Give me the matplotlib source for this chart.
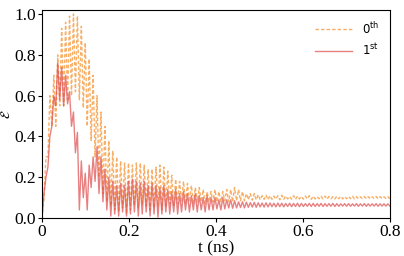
import numpy as np
import matplotlib
matplotlib.use("Agg")
from matplotlib import pyplot as plt

# peak / trough values of each oscillation period (period ~0.009 ns)
zeroth_hi = [0.00, 0.30, 0.60, 0.70, 0.80, 0.93, 0.96, 0.99, 1.00, 0.99,
             0.94, 0.86, 0.78, 0.70, 0.60, 0.52, 0.45, 0.38, 0.33, 0.30,
             0.28, 0.27, 0.27, 0.26, 0.27, 0.27, 0.26, 0.24, 0.24, 0.25,
             0.26, 0.25, 0.23, 0.21, 0.19, 0.18, 0.18, 0.17, 0.16, 0.15,
             0.15, 0.14, 0.13, 0.13, 0.14, 0.13, 0.13, 0.14, 0.14, 0.15,
             0.14, 0.13, 0.12, 0.12, 0.12, 0.115, 0.11, 0.112, 0.11, 0.108,
             0.11, 0.112, 0.108, 0.106, 0.11, 0.108, 0.106, 0.108, 0.11, 0.107,
             0.105, 0.107, 0.108, 0.106, 0.105, 0.107, 0.106, 0.105, 0.106, 0.107,
             0.105, 0.104, 0.106, 0.105, 0.104, 0.106, 0.105, 0.104, 0.105]
zeroth_lo = [0.10, 0.30, 0.45, 0.45, 0.55, 0.55, 0.58, 0.60, 0.62, 0.58,
             0.54, 0.45, 0.38, 0.30, 0.20, 0.12, 0.08, 0.06, 0.04, 0.03,
             0.05, 0.02, 0.04, 0.06, 0.05, 0.07, 0.06, 0.04, 0.05, 0.06,
             0.04, 0.06, 0.07, 0.06, 0.07, 0.08, 0.07, 0.08, 0.07, 0.08,
             0.08, 0.07, 0.08, 0.08, 0.08, 0.08, 0.085, 0.08, 0.08, 0.085,
             0.085, 0.085, 0.09, 0.088, 0.09, 0.09, 0.092, 0.09, 0.092, 0.093,
             0.09, 0.092, 0.094, 0.093, 0.092, 0.094, 0.093, 0.094, 0.092, 0.094,
             0.095, 0.094, 0.093, 0.095, 0.094, 0.095, 0.094, 0.095, 0.095, 0.094,
             0.095, 0.096, 0.095, 0.095, 0.096, 0.095, 0.096, 0.096, 0.095]

first_hi = [0.00, 0.20, 0.40, 0.60, 0.76, 0.74, 0.70, 0.62, 0.52, 0.42,
            0.28, 0.22, 0.26, 0.30, 0.35, 0.30, 0.24, 0.20, 0.18, 0.16,
            0.17, 0.16, 0.18, 0.19, 0.18, 0.17, 0.18, 0.16, 0.17, 0.16,
            0.15, 0.16, 0.14, 0.13, 0.14, 0.12, 0.13, 0.12, 0.11, 0.12,
            0.11, 0.10, 0.11, 0.10, 0.10, 0.09, 0.10, 0.09, 0.09, 0.085,
            0.08, 0.08, 0.078, 0.076, 0.077, 0.075, 0.074, 0.075, 0.074, 0.073,
            0.074, 0.073, 0.072, 0.073, 0.072, 0.073, 0.072, 0.071, 0.072, 0.072,
            0.071, 0.072, 0.071, 0.071, 0.072, 0.071, 0.070, 0.071, 0.071, 0.070,
            0.071, 0.070, 0.071, 0.070, 0.070, 0.071, 0.070, 0.070, 0.070]
first_lo = [0.12, 0.25, 0.45, 0.55, 0.58, 0.55, 0.56, 0.45, 0.32, 0.04,
            0.10, 0.04, 0.15, 0.18, 0.12, 0.08, 0.04, 0.01, 0.02, 0.01,
            0.03, 0.01, 0.02, 0.03, 0.01, 0.02, 0.03, 0.01, 0.02, 0.005,
            0.02, 0.03, 0.02, 0.03, 0.02, 0.03, 0.04, 0.03, 0.04, 0.03,
            0.04, 0.03, 0.04, 0.04, 0.045, 0.04, 0.045, 0.05, 0.048, 0.05,
            0.052, 0.05, 0.053, 0.054, 0.053, 0.055, 0.054, 0.055, 0.056, 0.055,
            0.056, 0.055, 0.057, 0.056, 0.057, 0.056, 0.057, 0.058, 0.057, 0.057,
            0.058, 0.057, 0.058, 0.058, 0.057, 0.058, 0.059, 0.058, 0.058, 0.059,
            0.058, 0.059, 0.058, 0.059, 0.059, 0.058, 0.059, 0.059, 0.059]

t_max = 0.8
labels = [r"$0^{\mathrm{th}}$", r"$1^{\mathrm{st}}$"]

zeroth = np.column_stack([zeroth_hi, zeroth_lo]).ravel()
first = np.column_stack([first_hi, first_lo]).ravel()
t = np.linspace(0, t_max, len(zeroth))

plt.rcParams["font.family"] = ["Liberation Serif", "DejaVu Serif"]
plt.rcParams["mathtext.fontset"] = "dejavusans"

fig = plt.figure(figsize=(4.04, 2.56), dpi=100)
ax = fig.add_axes([0.104, 0.148, 0.861, 0.813])

ax.plot(t, zeroth, color="#f7a04a", lw=1.0, ls=(0, (2.5, 1.5)), alpha=0.85, label=labels[0])
ax.plot(t, first, color="#de4b4b", lw=1.0, alpha=0.7, label=labels[1])

ax.set_xlim(0, t_max)
ax.set_ylim(0, 1.02)
ax.set_xticks([0, 0.2, 0.4, 0.6, 0.8])
ax.set_xticklabels(["0", "0.2", "0.4", "0.6", "0.8"])
ax.set_yticks([0, 0.2, 0.4, 0.6, 0.8, 1.0])
ax.tick_params(labelsize=12.5, length=3, width=0.8, pad=1.5)
ax.set_xlabel("t (ns)", fontsize=12.5, labelpad=0)
ax.set_ylabel(r"$\mathcal{E}$", fontsize=9, labelpad=1)

leg = ax.legend(loc="upper right", frameon=False, handlelength=3.2,
                prop={"family": "DejaVu Sans", "size": 8.5})

fig.savefig("out.png", dpi=100)
